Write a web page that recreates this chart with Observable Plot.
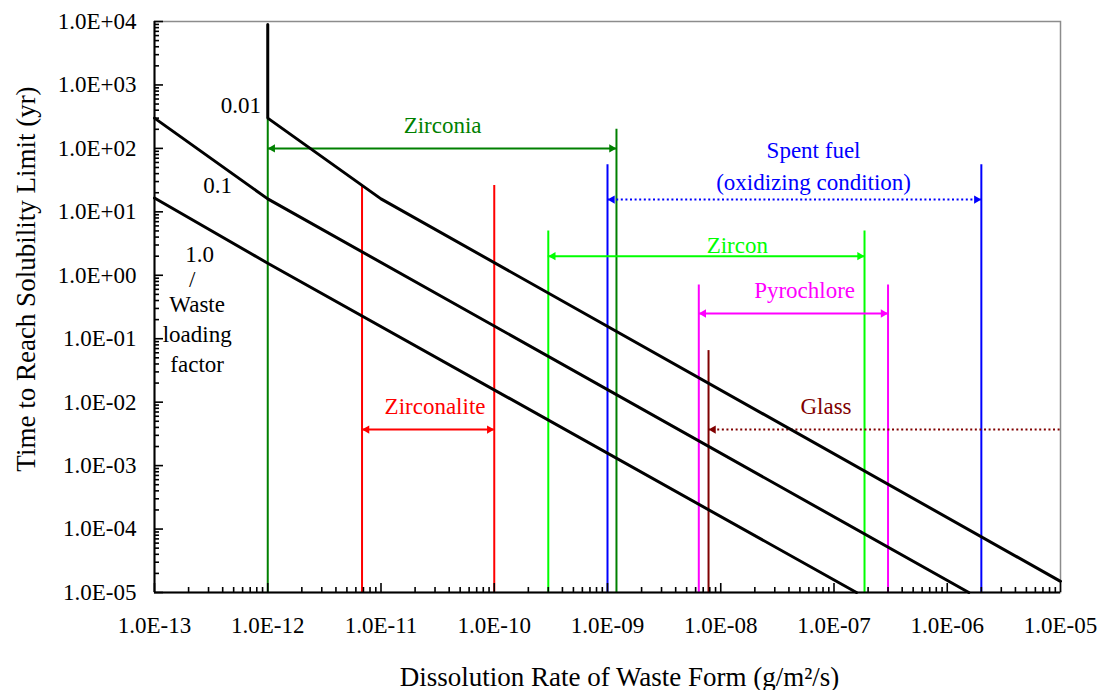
<!DOCTYPE html>
<html><head><meta charset="utf-8">
<script src="https://cdn.jsdelivr.net/npm/d3@7"></script>
<script src="https://cdn.jsdelivr.net/npm/@observablehq/plot@0.6"></script>
<style>html,body{margin:0;padding:0;background:#fff;} svg text{font-family:'Liberation Serif','Times New Roman',serif;}</style>
</head><body><div id="chart"></div>
<script>
// ---- axis ticks ----
const xTickValues = [1e-13, 1e-12, 1e-11, 1e-10, 1e-9, 1e-8, 1e-7, 1e-6, 1e-5];
const xTickLabels = ["1.0E-13","1.0E-12","1.0E-11","1.0E-10","1.0E-09","1.0E-08","1.0E-07","1.0E-06","1.0E-05"];
const yTickValues = [1e-5, 1e-4, 1e-3, 1e-2, 1e-1, 1e0, 1e1, 1e2, 1e3, 1e4];
const yTickLabels = ["1.0E-05","1.0E-04","1.0E-03","1.0E-02","1.0E-01","1.0E+00","1.0E+01","1.0E+02","1.0E+03","1.0E+04"];

// ---- waste loading factor curves ----
const curve001Rate = [1e-12, 1e-12, 1e-11, 1e-5];
const curve001Time = [9000, 300, 16, 1.5e-5];
const curve01Rate = [1e-13, 1e-12, 1.55e-6];
const curve01Time = [300, 16, 1e-5];
const curve10Rate = [1e-13, 1e-12, 1.58e-7];
const curve10Time = [16.5, 1.55, 1e-5];

// ---- waste form dissolution ranges ----
const formNames = ["Zirconia", "Spent fuel", "Zircon", "Pyrochlore", "Zirconalite", "Glass"];
const formColors = ["#008000", "#0000ff", "#00ff00", "#ff00ff", "#ff0000", "#800000"];
const rateMin = [1e-12, 1e-9, 3e-10, 6.4e-9, 6.8e-12, 7.8e-9];
const rateMax = [1.2e-9, 2e-6, 1.86e-7, 3e-7, 1e-10, 1e-5];
const topAtMin = [300, 55, 5, 0.7, 26, 0.065];
const topAtMax = [200, 55, 5, 0.7, 26, null];
const arrowTime = [100, 15.6, 2, 0.25, 3.7e-3, 3.7e-3];
const arrowDotted = [false, true, false, false, false, true];
const headAtMin = [true, true, true, true, true, true];
const headAtMax = [true, true, true, true, true, false];
const formLabelText = ["Zirconia", "Spent fuel\n(oxidizing condition)", "Zircon", "Pyrochlore", "Zirconalite", "Glass"];
const formLabelRate = [3.5e-11, 6.6e-8, 1.4e-8, 5.5e-8, 3.0e-11, 8.5e-8];
const formLabelTime = [255, 57.6, 3.3, 0.64, 9.4e-3, 9.4e-3];

// ---- curve labels ----
const curveLabelText = ["0.01", "0.1", "1.0", "/", "Waste\nloading\nfactor"];
const curveLabelRate = [5.8e-13, 3.6e-13, 2.5e-13, 2.15e-13, 2.38e-13];
const curveLabelTime = [509, 27.9, 2.3, 0.92, 0.124];

const xDomain = [1e-13, 1e-5];
const yDomain = [1e-5, 1e4];

// ---- build tables ----
const curves = [
  ...curve001Rate.map((r, i) => ({curve: "0.01", rate: r, time: curve001Time[i]})),
  ...curve01Rate.map((r, i) => ({curve: "0.1", rate: r, time: curve01Time[i]})),
  ...curve10Rate.map((r, i) => ({curve: "1.0", rate: r, time: curve10Time[i]}))
];
const forms = formNames.map((name, i) => ({
  name, color: formColors[i], lo: rateMin[i], hi: rateMax[i],
  topLo: topAtMin[i], topHi: topAtMax[i], ay: arrowTime[i], dotted: arrowDotted[i],
  headLo: headAtMin[i], headHi: headAtMax[i],
  label: formLabelText[i], lx: formLabelRate[i], ly: formLabelTime[i], bottom: yDomain[0]
}));
const curveLabels = curveLabelText.map((t, i) => ({t, x: curveLabelRate[i], y: curveLabelTime[i]}));

const W = 1099, H = 690, ML = 154, MR = 39, MT = 21, MB = 98;

const xAll = d3.scaleLog().domain(xDomain).ticks();
const yAll = d3.scaleLog().domain(yDomain).ticks();
const isMajor = d => Math.abs(Math.log10(d) - Math.round(Math.log10(d))) < 1e-9;

const serif = "Liberation Serif";
const blank = () => "";

const chart = Plot.plot({
  width: W, height: H,
  marginLeft: ML, marginRight: MR, marginTop: MT, marginBottom: MB,
  x: {type: "log", domain: xDomain},
  y: {type: "log", domain: yDomain},
  color: {type: "identity"},
  style: {fontFamily: serif, fontSize: "23px", background: "#fff", color: "#000", overflow: "visible"},
  marks: [
    Plot.frame({stroke: "#8c8c8c", strokeWidth: 1.5}),
    // vertical range limits
    Plot.ruleX(forms, {x: "lo", y1: "bottom", y2: "topLo", stroke: "color", strokeWidth: 2}),
    Plot.ruleX(forms.filter(d => d.topHi != null), {x: "hi", y1: "bottom", y2: "topHi", stroke: "color", strokeWidth: 2}),
    // arrow shafts
    Plot.ruleY(forms.filter(d => !d.dotted), {y: "ay", x1: "lo", x2: "hi", stroke: "color", strokeWidth: 2}),
    Plot.ruleY(forms.filter(d => d.dotted), {y: "ay", x1: "lo", x2: "hi", stroke: "color", strokeWidth: 2, strokeDasharray: "2,2.6"}),
    // arrow heads
    Plot.dot(forms.filter(d => d.headHi), {x: "hi", y: "ay", symbol: "triangle", rotate: 90, r: 3.1, fill: "color", dx: -4.8}),
    Plot.dot(forms.filter(d => d.headLo), {x: "lo", y: "ay", symbol: "triangle", rotate: -90, r: 3.1, fill: "color", dx: 4.8}),
    // form labels
    Plot.text(forms, {x: "lx", y: "ly", text: "label", fill: "color", fontFamily: serif, fontSize: 23, lineHeight: 1.39, textAnchor: "middle"}),
    // curves
    Plot.line(curves, {x: "rate", y: "time", z: "curve", stroke: "#000", strokeWidth: 3, strokeLinejoin: "miter"}),
    Plot.text(curveLabels, {x: "x", y: "y", text: "t", fill: "#000", fontFamily: serif, fontSize: 23, lineHeight: 1.3, textAnchor: "middle"}),
    // axis lines
    Plot.ruleX([xDomain[0]], {stroke: "#000", strokeWidth: 2}),
    Plot.ruleY([yDomain[0]], {stroke: "#000", strokeWidth: 2}),
    // inward ticks (negative tick size)
    Plot.axisX(xAll.filter(isMajor), {tickSize: -9, tickFormat: blank, label: null, stroke: "#000", strokeWidth: 1.6}),
    Plot.axisX(xAll.filter(d => !isMajor(d)), {tickSize: -5, tickFormat: blank, label: null, stroke: "#000", strokeWidth: 1.6}),
    Plot.axisY(yAll.filter(isMajor), {tickSize: -9, tickFormat: blank, label: null, stroke: "#000", strokeWidth: 1.6}),
    Plot.axisY(yAll.filter(d => !isMajor(d)), {tickSize: -5, tickFormat: blank, label: null, stroke: "#000", strokeWidth: 1.6}),
    // tick labels
    Plot.axisX(xTickValues, {tickSize: 0, tickPadding: 24, label: null, fontFamily: serif, fontSize: 23,
      tickFormat: d => xTickLabels[xTickValues.indexOf(d)]}),
    Plot.axisY(yTickValues, {tickSize: 0, tickPadding: 18, label: null, fontFamily: serif, fontSize: 23,
      tickFormat: d => yTickLabels[yTickValues.indexOf(d)]}),
    // axis titles
    Plot.text(["Time to Reach Solubility Limit (yr)"], {text: d => d, frameAnchor: "left", textAnchor: "middle", lineAnchor: "middle",
      rotate: -90, dx: -128, dy: -28, fontFamily: serif, fontSize: 27}),
    Plot.text(["Dissolution Rate of Waste Form (g/m²/s)"], {text: d => d, frameAnchor: "bottom", textAnchor: "middle", lineAnchor: "middle",
      dx: 12, dy: 85, fontFamily: serif, fontSize: 27})
  ]
});
document.getElementById("chart").appendChild(chart);
</script>
</body></html>
